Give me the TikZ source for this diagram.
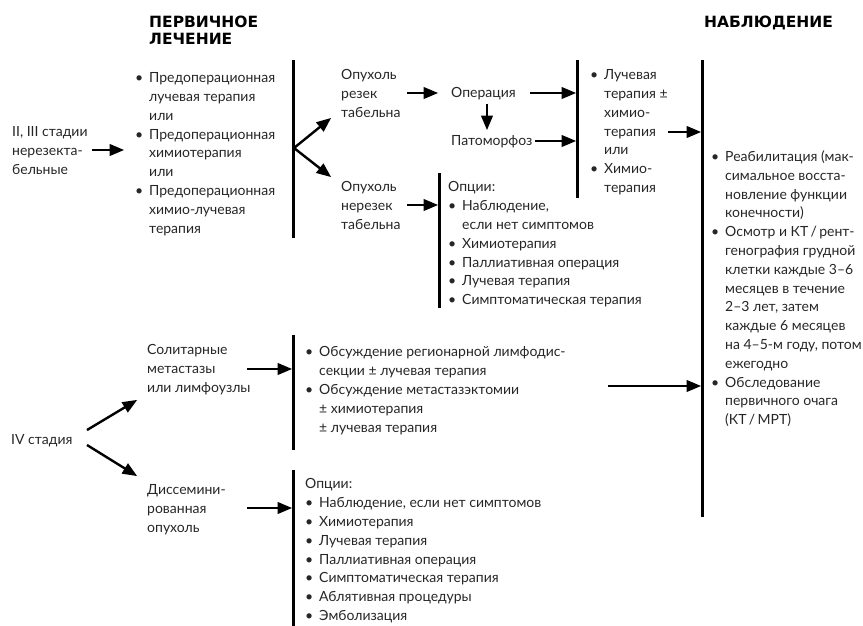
\documentclass[tikz,border=0pt]{standalone}
\usepackage{fontspec}
\setmainfont{Lato}
\newfontfamily\headfont{DejaVu Sans}
\usepackage{tikz}
\usetikzlibrary{arrows,positioning}
\newcommand\itm{\makebox[14pt][l]{\textbullet}}
\newcommand\cnt{\hspace*{14pt}}
\tikzset
{
    txt/.style  = {align=left, anchor=north west, inner sep=0pt, text=black!85, font=\fontsize{14}{18.8}\selectfont},
    head/.style = {align=left, anchor=north west, inner sep=0pt, font=\headfont\bfseries\fontsize{15.5}{17}\selectfont},
    bar/.style  = {-, line width=3pt}
}

\begin{document}
\begin{tikzpicture}[->,>=triangle 45, line width=2.4pt, x=1pt, y=-1pt]
    \useasboundingbox (0,0) rectangle (863,626);
    % headings
    \node [head] (primary) at (148,14.5) {ПЕРВИЧНОЕ\\ЛЕЧЕНИЕ};
    \node [head] (followup) at (703,14.5) {НАБЛЮДЕНИЕ};
    % stages II, III
    \node [txt] (stage) at (11,125.5) {II, III стадии\\нерезекта-\\бельные};
    \node [txt] (neoadj) at (134,71.5) {\itm Предоперационная\\\cnt лучевая терапия\\\cnt или\\\itm Предоперационная\\\cnt химиотерапия\\\cnt или\\\itm Предоперационная\\\cnt химио-лучевая\\\cnt терапия};
    \node [txt] (res) at (340,68.5) {Опухоль\\резек\\табельна};
    \node [txt] (op) at (450,86.5) {Операция};
    \node [txt] (pat) at (450,134.5) {Патоморфоз};
    \node [txt] (adj) at (589,68.5) {\itm Лучевая\\\cnt терапия ±\\\cnt химио-\\\cnt терапия\\\cnt или\\\itm Химио-\\\cnt терапия};
    \node [txt] (nonres) at (340,180.5) {Опухоль\\нерезек\\табельна};
    \node [txt] (opt) at (447,180.5) {Опции:\\\itm Наблюдение,\\\cnt если нет симптомов\\\itm Химиотерапия\\\itm Паллиативная операция\\\itm Лучевая терапия\\\itm Симптоматическая терапия};
    % follow-up
    \node [txt] (rehab) at (710,149.5) {\itm Реабилитация (мак-\\\cnt симальное восста-\\\cnt новление функции\\\cnt конечности)\\\itm Осмотр и КТ\,/\,рент-\\\cnt генография грудной\\\cnt клетки каждые 3–6\\\cnt месяцев в течение\\\cnt 2–3 лет, затем\\\cnt каждые 6 месяцев\\\cnt на 4–5-м году, потом\\\cnt ежегодно\\\itm Обследование\\\cnt первичного очага\\\cnt (КТ\,/\,МРТ)};
    % stage IV
    \node [txt] (iv) at (10,433.5) {IV стадия};
    \node [txt] (sol) at (146,343.5) {Солитарные\\метастазы\\или лимфоузлы};
    \node [txt] (meta) at (304,345.5) {\itm Обсуждение регионарной лимфодис-\\\cnt секции ± лучевая терапия\\\itm Обсуждение метастазэктомии\\\cnt ± химиотерапия\\\cnt ± лучевая терапия};
    \node [txt] (diss) at (146,483.5) {Диссемини-\\рованная\\опухоль};
    \node [txt] (pall) at (304,477.5) {Опции:\\\itm Наблюдение, если нет симптомов\\\itm Химиотерапия\\\itm Лучевая терапия\\\itm Паллиативная операция\\\itm Симптоматическая терапия\\\itm Аблятивная процедуры\\\itm Эмболизация};
    % bars
    \draw [bar] (293,60) -- (293,238);
    \draw [bar] (577,60) -- (577,198);
    \draw [bar] (702,60) -- (702,517);
    \draw [bar] (439,173) -- (439,308);
    \draw [bar] (293,335) -- (293,450);
    \draw [bar] (293,470) -- (293,626);
    % connector ends
    \coordinate (stageout) at (92,150);
    \coordinate (neoadjin) at (124,150);
    \coordinate (fork) at (294,148);
    \coordinate (resin) at (331,118);
    \coordinate (nonresin) at (331,177);
    \coordinate (resout) at (407,93);
    \coordinate (opin) at (438,93);
    \coordinate (opdown) at (487,104);
    \coordinate (patin) at (487,130);
    \coordinate (opout) at (530,93);
    \coordinate (adjin) at (576,93);
    \coordinate (patout) at (535,141);
    \coordinate (adjin2) at (576,141);
    \coordinate (nonresout) at (407,205);
    \coordinate (optin) at (438,205);
    \coordinate (adjout) at (668,132);
    \coordinate (rehabin) at (701,132);
    \coordinate (ivup) at (87,430);
    \coordinate (solin) at (137,400);
    \coordinate (ivdown) at (87,445);
    \coordinate (dissin) at (137,476);
    \coordinate (solout) at (247,369);
    \coordinate (metain) at (292,369);
    \coordinate (metaout) at (608,386);
    \coordinate (rehabin2) at (701,386);
    \coordinate (dissout) at (247,508);
    \coordinate (pallin) at (292,508);
    % arrows
    \draw (stageout) -- (neoadjin);
    \draw (fork) -- (resin);
    \draw (fork) -- (nonresin);
    \draw (resout) -- (opin);
    \draw (opdown) -- (patin);
    \draw (opout) -- (adjin);
    \draw (patout) -- (adjin2);
    \draw (nonresout) -- (optin);
    \draw (adjout) -- (rehabin);
    \draw (ivup) -- (solin);
    \draw (ivdown) -- (dissin);
    \draw (solout) -- (metain);
    \draw (metaout) -- (rehabin2);
    \draw (dissout) -- (pallin);
\end{tikzpicture}
\end{document}
